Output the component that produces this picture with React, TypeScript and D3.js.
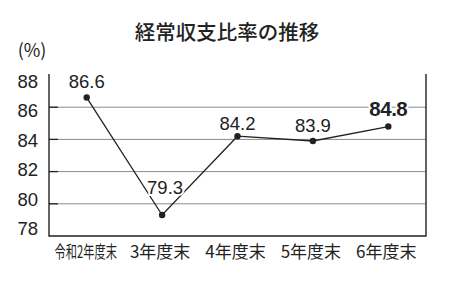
import React from "react";
import * as d3 from "d3";

const categories = ["令和2年度末", "3年度末", "4年度末", "5年度末", "6年度末"];
const values = [86.6, 79.3, 84.2, 83.9, 84.8];
const valueLabels = ["86.6", "79.3", "84.2", "83.9", "84.8"];
const yTicks = [78, 80, 82, 84, 86, 88];
const gridTicks = [80, 82, 84, 86];
const labelOffsets = [-16, -28, -13, -16, -18.5];
const boldIndex = 4;

const W = 464;
const H = 289;
const left = 49;
const right = 426;
const top = 75;
const bottom = 236;

const NUM_FONT = "'Liberation Sans', Arial, sans-serif";
const JP_FONT = "'Noto Sans CJK JP', sans-serif";

export default function App() {
  const x = d3.scaleBand<string>().domain(categories).range([left, right]);
  const y = d3.scaleLinear().domain([78, 88]).range([bottom, top]);
  const yLabel = d3.scaleLinear().domain([78, 88]).range([228.5, 81.5]);
  const cx = (c: string) => (x(c) ?? 0) + x.bandwidth() / 2;
  const line = d3
    .line<number>()
    .x((_, i) => cx(categories[i]))
    .y((d) => y(d));

  return (
    <svg
      width={W}
      height={H}
      style={{ position: "absolute", left: 0, top: 0, background: "#fff" }}
    >
      <rect width={W} height={H} fill="#fff" />
      <text
        x={227}
        y={31}
        textAnchor="middle"
        dominantBaseline="central"
        fontFamily={JP_FONT}
        fontSize={20.5}
        fontWeight={500}
        fill="#222"
      >
        経常収支比率の推移
      </text>
      <text
        x={32}
        y={49}
        textAnchor="middle"
        dominantBaseline="central"
        fontFamily={JP_FONT}
        fontSize={18}
        fill="#222"
      >
        (%)
      </text>
      {gridTicks.map((t) => (
        <g key={t}>
          <line x1={left} x2={right} y1={y(t)} y2={y(t)} stroke="#8a8a8a" strokeWidth={1} />
          <line x1={left} x2={left + 9} y1={y(t)} y2={y(t)} stroke="#222" strokeWidth={1.3} />
        </g>
      ))}
      {yTicks.map((t) => (
        <text
          key={t}
          x={38}
          y={yLabel(t)}
          textAnchor="end"
          dominantBaseline="central"
          fontFamily={NUM_FONT}
          fontSize={18.5}
          fill="#222"
        >
          {t}
        </text>
      ))}
      <path
        d={`M${left},${top - 1}V${bottom}H${right}V${top - 1}`}
        fill="none"
        stroke="#222"
        strokeWidth={1.4}
      />
      <path d={line(values) ?? ""} fill="none" stroke="#222" strokeWidth={1.3} />
      {values.map((v, i) => (
        <circle key={i} cx={cx(categories[i])} cy={y(v)} r={3.2} fill="#222" />
      ))}
      {values.map((v, i) => (
        <text
          key={"l" + i}
          x={cx(categories[i]) + (i === 1 ? 3 : 0)}
          y={y(v) + labelOffsets[i]}
          textAnchor="middle"
          dominantBaseline="central"
          fontFamily={NUM_FONT}
          fontSize={i === boldIndex ? 20.5 : 18.5}
          fontWeight={i === boldIndex ? 700 : 400}
          fill="#222"
          stroke="#fff"
          strokeWidth={4}
          paintOrder="stroke"
          letterSpacing={i === boldIndex ? -0.5 : 0}
        >
          {valueLabels[i]}
        </text>
      ))}
      {categories.map((c, i) => (
        <text
          key={c}
          transform={`translate(${cx(c) - (i === 0 ? 1 : 2)},250) scale(${i === 0 ? 0.66 : 1},1)`}
          textAnchor="middle"
          dominantBaseline="central"
          fontFamily={JP_FONT}
          fontSize={17}
          fill="#222"
        >
          {c}
        </text>
      ))}
    </svg>
  );
}
